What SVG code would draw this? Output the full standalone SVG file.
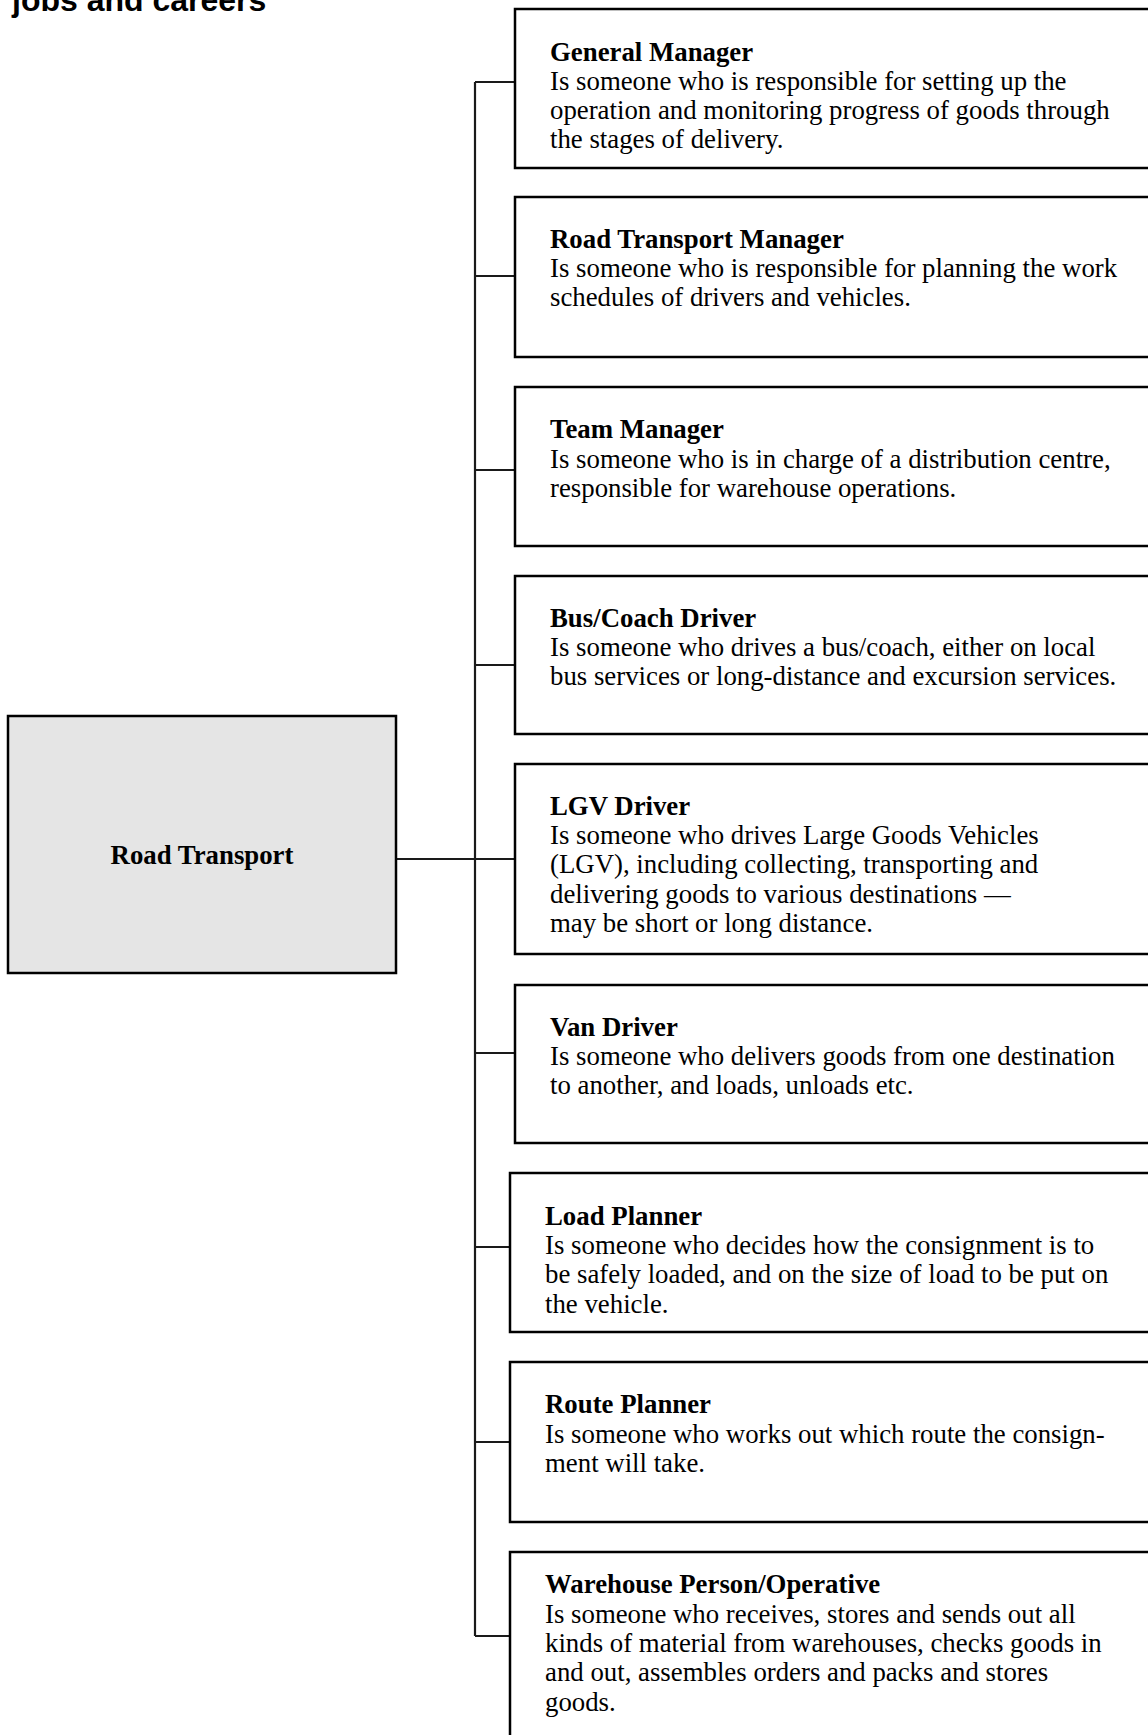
<svg xmlns="http://www.w3.org/2000/svg" width="1148" height="1735" viewBox="0 0 1148 1735">
<style>
.box{fill:#fff;stroke:#000;stroke-width:2.5}
.root{fill:#e5e5e5;stroke:#000;stroke-width:2.5}
.con{fill:none;stroke:#1a1a1a;stroke-width:2.2}
.t{font-family:"Liberation Serif","Times New Roman",serif;font-size:26.8px;fill:#000}
.b{font-weight:bold}
.hd{font-family:"Liberation Sans",Arial,sans-serif;font-weight:bold;font-size:32px;fill:#000}
</style>
<rect width="1148" height="1735" fill="#fff"/>
<text class="hd" x="12" y="11">jobs and careers</text>
<g id="connectors">
<path class="con" d="M475 82V1636"/>
<path class="con" d="M396 859H515"/>
<path class="con" d="M475 82H515M475 276H515M475 470H515M475 665H515M475 1053H515M475 1247H510M475 1442H510M475 1636H510"/>
</g>
<g id="road-transport">
<rect class="root" x="8" y="716" width="388" height="257"/>
<text class="t b" x="202" y="864" text-anchor="middle">Road Transport</text>
</g>
<g id="general-manager">
<rect class="box" x="515" y="9" width="660" height="159"/>
<text class="t" x="550" y="61"><tspan class="b">General Manager</tspan><tspan x="550" y="90">Is someone who is responsible for setting up the</tspan><tspan x="550" y="119">operation and monitoring progress of goods through</tspan><tspan x="550" y="148">the stages of delivery.</tspan></text>
</g>
<g id="road-transport-manager">
<rect class="box" x="515" y="197" width="660" height="160"/>
<text class="t" x="550" y="248"><tspan class="b">Road Transport Manager</tspan><tspan x="550" y="277">Is someone who is responsible for planning the work</tspan><tspan x="550" y="306">schedules of drivers and vehicles.</tspan></text>
</g>
<g id="team-manager">
<rect class="box" x="515" y="387" width="660" height="159"/>
<text class="t" x="550" y="438"><tspan class="b">Team Manager</tspan><tspan x="550" y="468">Is someone who is in charge of a distribution centre,</tspan><tspan x="550" y="497">responsible for warehouse operations.</tspan></text>
</g>
<g id="bus-coach-driver">
<rect class="box" x="515" y="576" width="660" height="158"/>
<text class="t" x="550" y="627"><tspan class="b">Bus/Coach Driver</tspan><tspan x="550" y="656">Is someone who drives a bus/coach, either on local</tspan><tspan x="550" y="685">bus services or long-distance and excursion services.</tspan></text>
</g>
<g id="lgv-driver">
<rect class="box" x="515" y="764" width="660" height="190"/>
<text class="t" x="550" y="815"><tspan class="b">LGV Driver</tspan><tspan x="550" y="844">Is someone who drives Large Goods Vehicles</tspan><tspan x="550" y="873">(LGV), including collecting, transporting and</tspan><tspan x="550" y="903">delivering goods to various destinations —</tspan><tspan x="550" y="932">may be short or long distance.</tspan></text>
</g>
<g id="van-driver">
<rect class="box" x="515" y="985" width="660" height="158"/>
<text class="t" x="550" y="1036"><tspan class="b">Van Driver</tspan><tspan x="550" y="1065">Is someone who delivers goods from one destination</tspan><tspan x="550" y="1094">to another, and loads, unloads etc.</tspan></text>
</g>
<g id="load-planner">
<rect class="box" x="510" y="1173" width="665" height="159"/>
<text class="t" x="545" y="1225"><tspan class="b">Load Planner</tspan><tspan x="545" y="1254">Is someone who decides how the consignment is to</tspan><tspan x="545" y="1283">be safely loaded, and on the size of load to be put on</tspan><tspan x="545" y="1313">the vehicle.</tspan></text>
</g>
<g id="route-planner">
<rect class="box" x="510" y="1362" width="665" height="160"/>
<text class="t" x="545" y="1413"><tspan class="b">Route Planner</tspan><tspan x="545" y="1443">Is someone who works out which route the consign-</tspan><tspan x="545" y="1472">ment will take.</tspan></text>
</g>
<g id="warehouse-person">
<rect class="box" x="510" y="1552" width="665" height="220"/>
<text class="t" x="545" y="1593"><tspan class="b">Warehouse Person/Operative</tspan><tspan x="545" y="1623">Is someone who receives, stores and sends out all</tspan><tspan x="545" y="1652">kinds of material from warehouses, checks goods in</tspan><tspan x="545" y="1681">and out, assembles orders and packs and stores</tspan><tspan x="545" y="1711">goods.</tspan></text>
</g>
</svg>
